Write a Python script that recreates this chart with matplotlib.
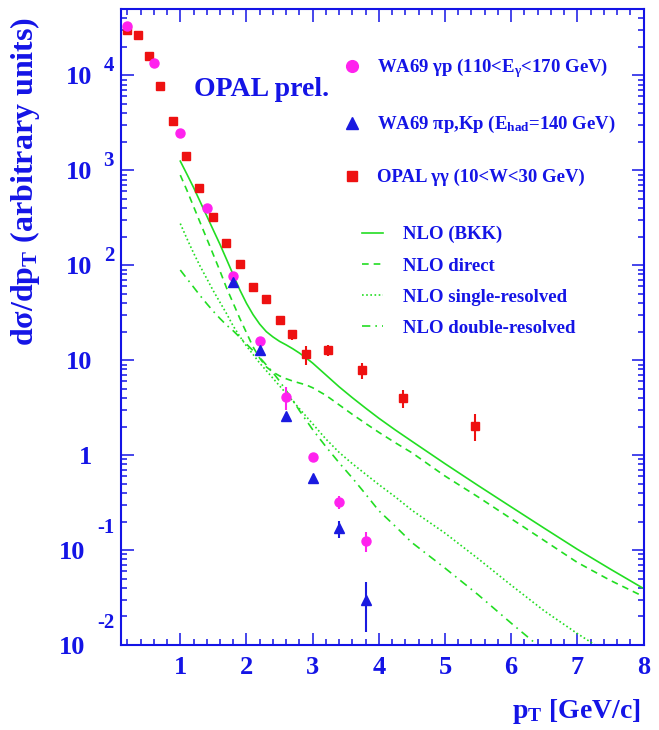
import numpy as np
import matplotlib
matplotlib.use("Agg")
import matplotlib.pyplot as plt
from matplotlib.ticker import FixedLocator, MultipleLocator, LogLocator, NullFormatter
from matplotlib.transforms import offset_copy

plt.rcParams['font.family'] = ['Liberation Serif', 'DejaVu Serif']
plt.rcParams['font.weight'] = 'bold'
plt.rcParams['mathtext.fontset'] = 'custom'
plt.rcParams['mathtext.rm'] = 'Liberation Serif:bold'
plt.rcParams['mathtext.it'] = 'Liberation Serif:bold'
plt.rcParams['mathtext.bf'] = 'Liberation Serif:bold'
plt.rcParams['mathtext.default'] = 'rm'

# WA69 gamma p
gp_pt = [0.2, 0.6, 1.0, 1.4, 1.8, 2.2, 2.6, 3.0, 3.4, 3.8]
gp_y = [33000, 13600, 2470, 405, 78, 15.8, 4.1, 0.95, 0.32, 0.125]
gp_err = [0, 0, 0, 0, 3, 0, 1.1, 0, 0.05, 0.03]

# WA69 pi p, K p
pp_pt = [1.8, 2.2, 2.6, 3.0, 3.4, 3.8]
pp_y = [66.7, 12.7, 2.59, 0.569, 0.169, 0.0298]
pp_err = [0, 0, 0, 0, 0.035, 0.016]

# OPAL gamma gamma
op_pt = [0.2, 0.36, 0.52, 0.69, 0.89, 1.09, 1.29, 1.49, 1.69, 1.9,
         2.1, 2.3, 2.5, 2.69, 2.9, 3.23, 3.74, 4.37, 5.46]
op_y = [30300, 26800, 15850, 7800, 3340, 1430, 651, 326, 170, 102,
        59.7, 43.9, 26.4, 18.7, 11.5, 12.8, 7.8, 4.0, 2.05]
op_err = [0, 0, 0, 0, 0, 0, 0, 0, 0, 0,
          4, 2, 3, 2.3, 2.5, 1.7, 1.5, 0.85, 0.65]

# NLO curves
nlo_pt = [1.0, 1.1, 1.2, 1.3, 1.4, 1.5, 1.6, 1.7, 1.8, 1.9, 2.0,
          2.1, 2.2, 2.3, 2.4, 2.5, 2.6, 2.7, 2.8, 2.9, 3.0,
          3.2, 3.4, 3.6, 3.8, 4.0, 4.25, 4.5, 5.0, 5.5, 6.0, 6.5, 7.0, 7.5, 8.0]
nlo_bkk = [1250, 912, 661, 468, 331, 234, 166, 115, 79.4, 55, 39.8,
           30.2, 24, 20, 17.6, 15.8, 14.5, 13.2, 11.9, 10.6, 9.33,
           7.0, 5.25, 4.03, 3.13, 2.45, 1.84, 1.40, 0.813, 0.479, 0.285, 0.17, 0.102, 0.063, 0.0394]
nlo_direct = [891, 617, 417, 282, 191, 129, 87, 57.5, 39.8, 27.5, 19.5,
              13.8, 10.5, 8.5, 7.5, 6.84, 6.38, 6.03, 5.75, 5.5, 5.13,
              4.27, 3.39, 2.69, 2.16, 1.74, 1.35, 1.06, 0.603, 0.363, 0.214, 0.126, 0.0741, 0.0479, 0.0324]
nlo_single = [275, 191, 135, 97.7, 72.4, 53.7, 40.7, 30.9, 22.9, 17.8, 14.1,
              11.5, 9.33, 7.76, 6.46, 5.37, 4.47, 3.72, 3.09, 2.57, 2.14,
              1.48, 1.07, 0.813, 0.631, 0.49, 0.363, 0.263, 0.151, 0.0813, 0.0427, 0.0229, 0.0132, 0.0079, 0.005]
nlo_double = [89.1, 72.4, 58.9, 47.9, 39.4, 32.7, 27.5, 23.4, 20.4, 17.4, 14.8,
              12.6, 10.7, 8.91, 7.41, 6.03, 4.79, 3.8, 2.95, 2.34, 1.86,
              1.23, 0.832, 0.575, 0.389, 0.26, 0.178, 0.12, 0.0646, 0.0339, 0.017, 0.0087, 0.0045, 0.0025, 0.0014]

xticks = [1, 2, 3, 4, 5, 6, 7, 8]
ydecades = [-2, -1, 0, 1, 2, 3, 4]
ybase = ['10', '10', '1', '10', '10', '10', '10']
yexp = ['-2', '-1', '', '', '2', '3', '4']

blue = '#1414e6'
green = '#22dd22'
red = '#ee1111'
magenta = '#ff22ee'
tri = '#1a1ae0'

fig = plt.figure(figsize=(6.59, 7.30), dpi=100)
ax = fig.add_axes([0.1832, 0.1164, 0.7933, 0.8712])


def fx(px):
    # pixel column -> axes fraction
    return (px - 120.7) / 522.8


l1, = ax.plot(nlo_pt, nlo_bkk, color=green, lw=1.2)
l2, = ax.plot(nlo_pt, nlo_direct, color=green, lw=1.2, ls=(0, (4, 3)))
l3, = ax.plot(nlo_pt, nlo_single, color=green, lw=1.2, ls=(0, (1, 1.5)))
l4, = ax.plot(nlo_pt, nlo_double, color=green, lw=1.2, ls=(0, (5, 3, 1, 3)))

e_op = ax.errorbar(op_pt, op_y, yerr=op_err, fmt='s', color=red, ms=5.5,
                   elinewidth=1.5, capsize=0)
e_gp = ax.errorbar(gp_pt, gp_y, yerr=gp_err, fmt='o', color=magenta, ms=6.5,
                   elinewidth=1.5, capsize=0)
e_pp = ax.errorbar(pp_pt, pp_y, yerr=pp_err, fmt='^', color=tri, ms=6.5,
                   elinewidth=1.5, capsize=0)

ax.set_yscale('log')
ax.set_xlim(0.1, 8)
ax.set_ylim(0.01, 5e4)
for s in ax.spines.values():
    s.set_color(blue)
    s.set_linewidth(1.5)
ax.tick_params(which='both', direction='in', top=True, right=True, colors=blue, width=1.1)
ax.tick_params(which='major', length=9)
ax.tick_params(which='minor', length=4.5)
ax.xaxis.set_major_locator(FixedLocator(xticks))
ax.xaxis.set_minor_locator(MultipleLocator(0.2))
ax.set_xticklabels([str(t) for t in xticks], fontsize=19)
ax.tick_params(axis='x', pad=8)
ax.yaxis.set_major_locator(LogLocator(base=10, numticks=20))
ax.yaxis.set_minor_locator(LogLocator(base=10, subs=np.arange(2, 10), numticks=20))
ax.yaxis.set_major_formatter(NullFormatter())
ax.yaxis.set_minor_formatter(NullFormatter())

ytr = ax.get_yaxis_transform()
for e, base, sup in zip(ydecades, ybase, yexp):
    neg = sup.startswith('-')
    ax.text(fx(85 if neg else 92), 10.0 ** e, base, transform=ytr, ha='right',
            va='center_baseline', fontsize=19, color=blue, clip_on=False)
    if sup:
        tr = offset_copy(ytr, fig=fig, x=0, y=25 if neg else 12, units='dots')
        ax.text(fx(114), 10.0 ** e, sup, transform=tr, ha='right',
                va='center_baseline', fontsize=15, color=blue, clip_on=False)

fig.text(25 / 659, 1 - 181 / 730, 'd\u03c3/dp$_{T}$ (arbitrary units)', rotation=90,
         ha='center', va='center', fontsize=23, color=blue)
fig.text(641 / 659, 1 - 712 / 730, 'p$_{T}$ [GeV/c]', ha='right', va='center',
         fontsize=20, color=blue)
ax.text(fx(194), 0.8632, 'OPAL prel.', transform=ax.transAxes, fontsize=20,
        color=blue, va='baseline')

labels1 = ['WA69 \u03b3p (110<E$_{\u03b3}$<170 GeV)',
           'WA69 \u03c0p,Kp (E$_{had}$=140 GeV)',
           'OPAL \u03b3\u03b3 (10<W<30 GeV)']
leg1 = ax.legend([e_gp[0], e_pp[0], e_op[0]], labels1, loc='upper left',
                 bbox_to_anchor=(fx(342.3), 0.9253), frameon=False, fontsize=13.5,
                 handlelength=1.0, handletextpad=0.87, labelspacing=1.8,
                 borderpad=0, borderaxespad=0, markerscale=1.3, labelcolor=blue)
ax.add_artist(leg1)
labels2 = ['NLO (BKK)', 'NLO direct', 'NLO single-resolved', 'NLO double-resolved']
ax.legend([l1, l2, l3, l4], labels2, loc='upper left',
          bbox_to_anchor=(fx(362), 0.6587), frameon=False, fontsize=13.5,
          handlelength=1.12, handletextpad=1.07, labelspacing=0.75,
          borderpad=0, borderaxespad=0, labelcolor=blue)

fig.savefig('out.png', dpi=100)
